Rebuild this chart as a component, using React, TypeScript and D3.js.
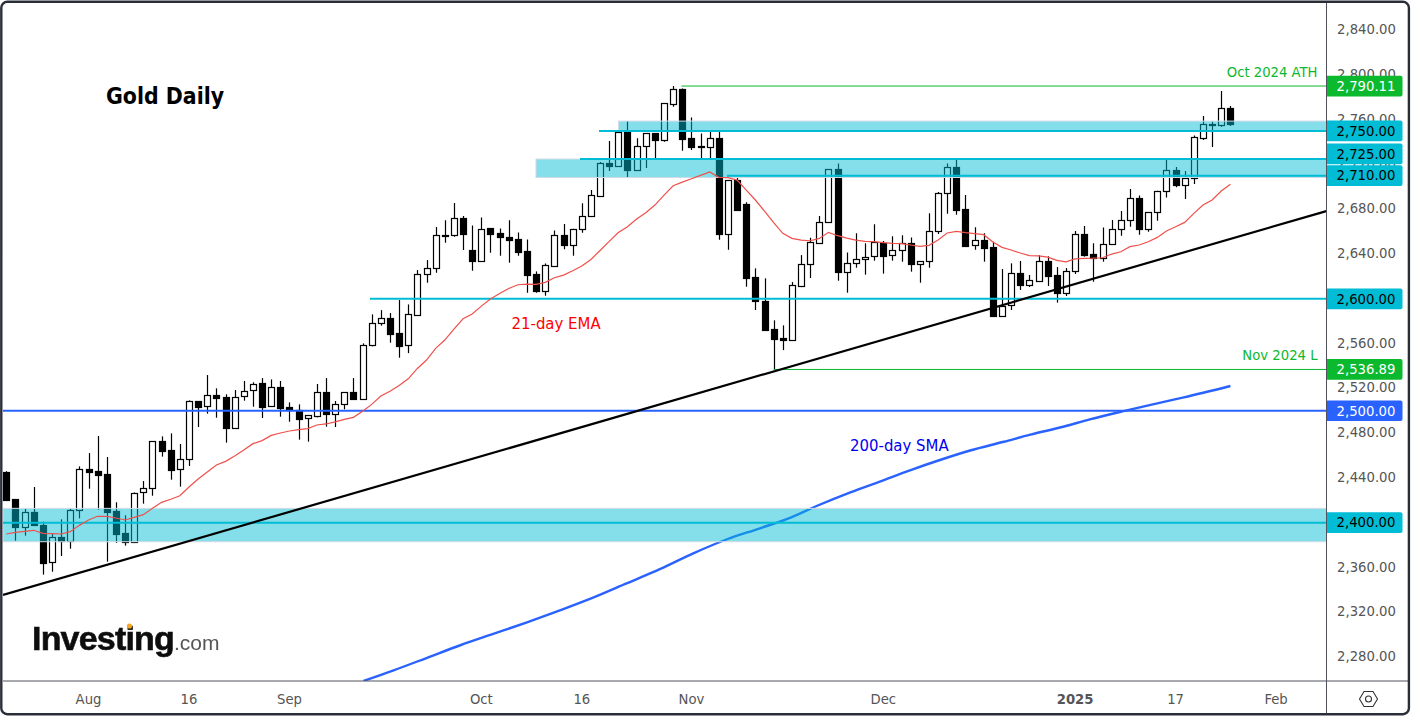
import React from "react";
import * as d3 from "d3";

// daily gold candles, Jul 2024 - Jan 2025
const opens = [2445,2420.9,2396.4,2409.2,2397.6,2364.6,2387.2,2383.9,2411,2447.7,2445.9,2443.2,2410.1,2390.5,2382.4,2427.1,2430.7,2472.7,2464.6,2447.7,2456.6,2508.4,2504,2513.8,2512,2484.3,2512.9,2518.2,2524.5,2504,2520.9,2503,2500.7,2493.2,2495.6,2516.4,2496.8,2505.7,2516.4,2510.8,2558.4,2578,2582.5,2569.1,2558.4,2585.8,2621.8,2627.8,2656.2,2656.7,2671.8,2643.3,2634,2662.9,2658.5,2655.5,2653.1,2642.4,2621.8,2607.2,2629.6,2656.7,2648.3,2662,2673.6,2692.1,2721,2718.9,2748.7,2715.4,2736.2,2747.8,2742.2,2774.3,2787.1,2743.4,2736.4,2735.9,2743.4,2658.2,2705.8,2684.4,2619.2,2597.7,2572.7,2564.7,2562.9,2611.7,2631.4,2650.1,2668.9,2715.7,2624.4,2632.4,2635.9,2638,2650.2,2638.9,2643.3,2649.6,2631.4,2633.5,2660.3,2694.2,2717.5,2680,2647.8,2652.3,2646,2585,2594.2,2622.8,2612.7,2616.2,2633.5,2621,2605.5,2624.6,2657.6,2639.8,2636.1,2648.7,2662,2670.1,2689.7,2662.6,2677.2,2696,2714.8,2701.9,2707.6,2743.9,2755.9,2755,2770.2];
const highs = [2446,2421,2412.2,2431.9,2400.9,2389.9,2403,2412.8,2450.3,2462.2,2477.4,2458.7,2418.2,2406.6,2427,2437.2,2473,2477.1,2479.8,2470.3,2509.3,2508.6,2531.9,2520,2514.7,2518.5,2526.6,2525.4,2529.2,2528,2526.6,2507.5,2505.7,2496,2523.9,2529.2,2508.7,2516.5,2529.2,2560.2,2586.1,2589.9,2587.3,2598.9,2595,2625.7,2634.6,2664.1,2670.1,2685.6,2673.9,2665.6,2672.7,2663,2662.9,2670.1,2659.3,2653.1,2624.5,2631.6,2661.1,2666.8,2662.5,2685.3,2697.2,2722.2,2741,2749,2758.8,2743.4,2748,2748,2775,2790.1,2788,2762.1,2747.8,2749,2749,2706,2708.2,2686.2,2627.2,2618.3,2580.8,2576.3,2615,2639.1,2654.6,2673.9,2716,2721,2641.5,2658.5,2649.6,2666.6,2651.7,2655.8,2656.7,2654.9,2633.6,2676.4,2695.4,2721,2724,2692.8,2663.9,2658.5,2651.1,2626.6,2631.7,2633.8,2621.3,2638.9,2638,2628.4,2627.5,2660.6,2665.1,2649.7,2663.8,2670.4,2678.4,2698.1,2692.4,2677.5,2696.6,2724,2717.7,2714.2,2746,2763.3,2758.5,2785.6,2772.2];
const lows = [2420,2383.9,2388.4,2397,2353.6,2356.2,2370.2,2376.8,2403.9,2430.4,2411.6,2365.2,2382,2379.5,2381.8,2417,2424.1,2459,2438.4,2432.2,2450.6,2485.5,2497.4,2493.8,2471.5,2484,2509,2503.6,2493.5,2503.9,2494.7,2490.2,2474.2,2472.4,2494.1,2485.8,2485.5,2501.3,2510,2510.5,2557.5,2576,2560.8,2547.4,2551.5,2584.9,2614.4,2623.3,2650.1,2655.5,2643.6,2625.1,2633.1,2641.2,2638.5,2632.3,2638.5,2605.4,2605.4,2602.8,2629,2644.2,2638.5,2659,2673.5,2691.9,2714.2,2718.5,2708.8,2715,2716.8,2725.5,2740.4,2771.6,2732.3,2732.9,2725.5,2725.5,2652.8,2643.9,2679,2610.8,2590,2572,2536.9,2554.2,2562.6,2610.5,2618.6,2649.2,2668.5,2616.2,2605.5,2627.8,2621.6,2634.1,2622.5,2634.1,2633.2,2624.3,2614.4,2627.8,2657.9,2676.1,2675.2,2646.6,2643.9,2633.2,2584,2584,2590,2607.9,2610.6,2615,2611.5,2596.6,2602.5,2622.2,2637.7,2615.3,2633.2,2648,2656.4,2664.4,2657.3,2660,2669.8,2690.6,2699.6,2689.1,2702.6,2741.9,2735.6,2753.8,2754.4];
const closes = [2420.5,2396.4,2409.2,2397.6,2364.3,2386.9,2383.9,2411,2447.7,2445.6,2442.9,2409.8,2390.2,2382.4,2426.8,2430.7,2472.7,2464.3,2447.4,2456.6,2508.4,2503.6,2513.8,2511.7,2484.3,2512.6,2517.9,2524.2,2503.6,2520.9,2502.7,2500.7,2492.9,2495.9,2516.4,2496.8,2505.7,2516.4,2510.8,2558.4,2578,2582.5,2568.8,2558.1,2586.1,2621.8,2627.8,2656.7,2656.9,2671.8,2658.2,2634,2662.6,2658.2,2655.5,2652.8,2642.1,2621.5,2607.2,2629.9,2656.7,2648.3,2662,2673.6,2692.4,2721,2718.6,2748.7,2715.4,2736.2,2747.8,2742.2,2774.6,2787.1,2743,2735.9,2736,2743.4,2658.2,2705.8,2679.6,2618.9,2597.7,2572.4,2564.4,2562.9,2612,2631.4,2650.4,2668.9,2715.7,2624.2,2632.4,2636,2637.7,2650.5,2638.6,2643.3,2649.6,2631.4,2633.5,2660.3,2694.2,2717.5,2679.7,2647.2,2652.3,2645.7,2585,2593.9,2622.8,2612.7,2616.5,2633.5,2620.7,2605.5,2624.6,2657.6,2639.2,2636.3,2648.7,2662,2670.1,2689.7,2662.6,2677.2,2696,2714.8,2701.9,2707.6,2744.2,2755.9,2755,2770.2,2756.2];

const ema21 = [2389.9,2391.4,2392.3,2393.2,2390.5,2390.2,2389.9,2392,2397.6,2402.4,2405.7,2405.7,2404.2,2402.4,2404.8,2407.2,2412.8,2418.2,2420.9,2424.1,2431.9,2439,2445.3,2451.5,2454.8,2459.6,2464.9,2470.6,2473.3,2478,2480.1,2481.9,2483.1,2484,2487.3,2488.2,2490,2492.3,2494.1,2499.5,2505.7,2513.2,2517.5,2522.5,2528.5,2537.8,2545.3,2555.7,2563.2,2573,2582.2,2586.4,2593.5,2599.8,2604.8,2609.3,2612.6,2613.2,2612.9,2614.7,2618.8,2621.2,2625.1,2629.3,2635.2,2643.2,2651.3,2659.3,2664.4,2671.3,2676.9,2683.8,2692.7,2701,2704.3,2707.3,2710.3,2713.3,2708.5,2708.2,2706.1,2697.2,2688.3,2678.4,2668,2658.5,2654,2652.5,2651.9,2654,2659.4,2656.4,2654.3,2652.5,2651.4,2651.1,2650.2,2649.6,2649.3,2648.1,2646.9,2647.8,2652.6,2658.8,2660.3,2659.1,2658.2,2657.3,2650.8,2646,2643.6,2640.9,2638.6,2638.3,2637.3,2634.3,2633,2635.7,2636.1,2636.3,2636.7,2640,2642.1,2646.6,2648.1,2651,2654.9,2660.6,2664.4,2668.3,2676.3,2683.8,2688.3,2696.3,2702.3];

// 200-day SMA, read at these bar positions
const smaBars = [39.1,42.4,46,49.7,53.3,57,60.6,64.3,67.9,71.6,75.2,78.9,82.5,85.8,88.7,92.4,95.7,99,102.2,105.5,109.2,112.1,115.7,118.6,122.3,126,128.9,134];
const smaValues = [2258.6,2268.1,2279.1,2290.5,2300.6,2311,2321.7,2333.3,2345.8,2358.7,2372.6,2385.2,2395,2404.4,2414.9,2427.1,2437,2447,2456,2464.5,2472.3,2478.6,2485.7,2492.3,2499.7,2506.6,2511.9,2522.1];

const timeTickBars = [9,20,31,52,63,75,96,117,128,139];
const timeTickLabels = ["Aug","16","Sep","Oct","16","Nov","Dec","2025","17","Feb"];

const zoneTops = [2412.8,2724.9,2758.8];
const zoneBottoms = [2383,2708.4,2750];

const levelPrices = [2400,2500,2600,2710,2725,2750];
const levelColors = ["#00bcd4","#2962ff","#00bcd4","#00bcd4","#00bcd4","#00bcd4"];
const levelTextColors = ["#000","#fff","#000","#000","#000","#000"];

const athPrice = 2790.11;
const lowPrice = 2536.89;
const trendStart = [-0.36,2335.4];
const trendEnd = [144.5,2678.4];

const W = 1411;
const H = 716;
const plotRight = 1326.5;
const axisY = 681;
const font = "'DejaVu Sans Condensed', 'DejaVu Sans', sans-serif";
const green = "#0bb92e";

const x = d3.scaleLinear().domain([0,134]).range([6.3,1230.4]);
const y = d3.scaleLinear().domain([2280,2840]).range([657,30.2]);
const fmt = d3.format(",.2f");
const snap = (v: number) => Math.round(v) + 0.5;

function Candles() {
  return (
    <g>
      {closes.map((c, i) => {
        const cx = snap(x(i));
        const top = snap(y(Math.max(opens[i], c)));
        const bot = snap(y(Math.min(opens[i], c)));
        return (
          <g key={i}>
            <line x1={cx} x2={cx} y1={y(highs[i])} y2={y(lows[i])} stroke="#000" strokeWidth={1.2} />
            <rect
              x={cx - 3}
              y={top}
              width={6}
              height={Math.max(bot - top, 1)}
              fill={c < opens[i] ? "#000" : "#fff"}
              stroke="#000"
              strokeWidth={1.2}
            />
          </g>
        );
      })}
    </g>
  );
}

function PriceTag({ value, color, textColor, nudge = 0 }: any) {
  const cy = y(value) + nudge;
  const h = 20.7;
  return (
    <g>
      <path
        d={`M${plotRight + 0.5} ${cy - h / 2}h73.5a2 2 0 0 1 2 2v${h - 4}a2 2 0 0 1 -2 2h-73.5z`}
        fill={color}
      />
      <text x={1366} y={cy - 0.5} dy="0.36em" textAnchor="middle" fontFamily={font} fontSize={14.7} fill={textColor}>
        {fmt(value)}
      </text>
    </g>
  );
}

export default function App() {
  const emaLine = d3.line<number>().x((_, i) => x(i)).y((d) => y(d));
  const smaLine = d3.line<number>().x((_, i) => x(smaBars[i])).y((d) => y(d)).curve(d3.curveMonotoneX);
  // 2,400 and 2,600 sit fully under their own price tags
  const priceTicks = d3.range(2280, 2841, 40).filter((t) => t !== 2400 && t !== 2600);
  // the zones only start part way across, the bottom one runs the full width
  const zoneLeft = [3, 536, 618.5];
  const levelLeft = [3, 3, 370, 727, 580, 599];

  return (
    <svg width={W} height={H} style={{ position: "absolute", left: 0, top: 0 }}>
      <defs>
        <clipPath id="plot">
          <rect x={3} y={3} width={plotRight - 3} height={axisY - 3} />
        </clipPath>
        <filter id="soft"><feGaussianBlur stdDeviation="0.55" /></filter>
      </defs>
      <rect width={W} height={H} fill="#fff" />

      <g clipPath="url(#plot)">
        <Candles />
        <path d={smaLine(smaValues) || ""} fill="none" stroke="#2962ff" strokeWidth={2.4} />

        {zoneTops.map((t, i) => (
          <rect
            key={i}
            x={zoneLeft[i]}
            y={y(t)}
            width={plotRight - zoneLeft[i]}
            height={y(zoneBottoms[i]) - y(t)}
            fill="#00bcd4"
            fillOpacity={0.48}
            stroke="#d1dbe5"
            strokeWidth={1}
          />
        ))}

        {levelPrices.map((p, i) => (
          <line key={p} x1={levelLeft[i]} x2={plotRight} y1={y(p)} y2={y(p)} stroke={levelColors[i]} strokeWidth={2} />
        ))}
        <line x1={x(73.9)} x2={plotRight} y1={y(athPrice)} y2={y(athPrice)} stroke={green} strokeWidth={1} />
        <line x1={x(84)} x2={plotRight} y1={y(lowPrice)} y2={y(lowPrice)} stroke={green} strokeWidth={1} />

        <line x1={x(trendStart[0])} y1={y(trendStart[1])} x2={x(trendEnd[0])} y2={y(trendEnd[1])} stroke="#000" strokeWidth={2.2} />
        <path d={emaLine(ema21) || ""} fill="none" stroke="#f0504c" strokeWidth={1.2} />
      </g>

      <text x={106} y={96} dy="0.36em" fontFamily={font} fontWeight="bold" fontSize={22.8} fill="#000">Gold Daily</text>
      <text x={511.5} y={323.5} dy="0.36em" fontFamily={font} fontSize={16.6} fill="#f00">21-day EMA</text>
      <text x={850} y={445.5} dy="0.36em" fontFamily={font} fontSize={16.6} fill="#0000f0">200-day SMA</text>
      <text x={1317.5} y={72} dy="0.36em" textAnchor="end" fontFamily={font} fontSize={14.7} fill={green}>Oct 2024 ATH</text>
      <text x={1317.5} y={355} dy="0.36em" textAnchor="end" fontFamily={font} fontSize={14.7} fill={green}>Nov 2024 L</text>

      <g filter="url(#soft)">
        <text x={32} y={650} fontFamily="'Liberation Sans', sans-serif" fontWeight="bold" fontSize={34} letterSpacing={-0.8} fill="#111" stroke="#111" strokeWidth={0.6}>Investing</text>
        <text x={174} y={650} fontFamily="'Liberation Sans', sans-serif" fontSize={21} fill="#555">.com</text>
        <circle cx={129.5} cy={626} r={2.6} fill="#f5a623" />
      </g>

      <line x1={3} x2={1408} y1={axisY} y2={axisY} stroke="#50535e" strokeWidth={1} />
      <line x1={plotRight} x2={plotRight} y1={3} y2={714} stroke="#50535e" strokeWidth={1} />

      {priceTicks.map((t) => (
        <text key={t} x={1366.5} y={y(t) - 1.2} dy="0.36em" textAnchor="middle" fontFamily={font} fontSize={14.7} fill="#555">
          {fmt(t)}
        </text>
      ))}
      {timeTickBars.map((b, i) => (
        <text
          key={b}
          x={x(b)}
          y={699}
          dy="0.36em"
          textAnchor="middle"
          fontFamily={font}
          fontSize={14.7}
          fontWeight={timeTickLabels[i] === "2025" ? "bold" : "normal"}
          fill="#555"
        >
          {timeTickLabels[i]}
        </text>
      ))}

      {levelPrices.map((p, i) => (
        <PriceTag key={p} value={p} color={levelColors[i]} textColor={levelTextColors[i]} nudge={p === 2725 ? -5 : 0} />
      ))}
      <PriceTag value={athPrice} color={green} textColor="#fff" />
      <PriceTag value={lowPrice} color={green} textColor="#fff" />

      <g fill="none" stroke="#333" strokeWidth={1.1}>
        <path d="M1359.5 699l4.5-7.5h9l4.5 7.5l-4.5 7.5h-9z" />
        <circle cx={1368.5} cy={699} r={3} />
      </g>

      <rect x={1.3} y={1.8} width={1407.6} height={712.4} rx={6} fill="none" stroke="#2a2e39" strokeWidth={2.4} />
    </svg>
  );
}
